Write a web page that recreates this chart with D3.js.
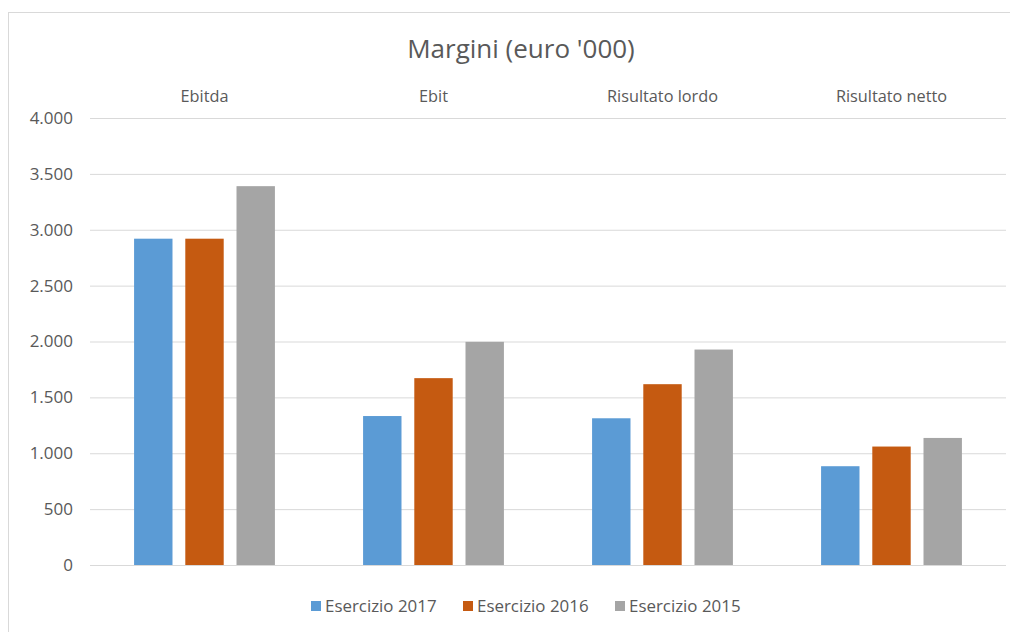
<!DOCTYPE html>
<html><head><meta charset="utf-8">
<script src="https://cdn.jsdelivr.net/npm/d3@7"></script>
<style>body{margin:0;background:#fff}svg{display:block}</style>
</head><body>
<script>
const categories = ["Ebitda", "Ebit", "Risultato lordo", "Risultato netto"];
const seriesNames = ["Esercizio 2017", "Esercizio 2016", "Esercizio 2015"];
const values2017 = [2920, 1333, 1313, 884];
const values2016 = [2920, 1672, 1618, 1060];
const values2015 = [3390, 1997, 1928, 1137];
const tickValues = [0, 500, 1000, 1500, 2000, 2500, 3000, 3500, 4000];
const tickLabels = ["0", "500", "1.000", "1.500", "2.000", "2.500", "3.000", "3.500", "4.000"];
const colors = ["#5B9BD5", "#C55A11", "#A5A5A5"];
const chartTitle = "Margini (euro '000)";

const series = [values2017, values2016, values2015];
const W = 1010, H = 632;
const font = "'Open Sans', sans-serif";
const textColor = "#595959";

const svg = d3.select("body").append("svg").attr("width", W).attr("height", H);
svg.append("rect").attr("x", 8.5).attr("y", 12.5).attr("width", W).attr("height", H)
  .attr("fill", "#fff").attr("stroke", "#d9d9d9").attr("stroke-width", 1);

const pLeft = 90, pRight = 1006, pTop = 118, pBottom = 565;
const y = d3.scaleLinear().domain([0, 4000]).range([pBottom, pTop]);
const x0 = d3.scaleBand().domain(categories).range([pLeft, pRight]).paddingInner(0.385).paddingOuter(0.1925);
const x1 = d3.scaleBand().domain(d3.range(series.length)).range([0, x0.bandwidth()]).paddingInner(0.25);

// gridlines
const yAxis = d3.axisLeft(y).tickValues(tickValues).tickFormat((d, i) => tickLabels[i])
  .tickSize(-(pRight - pLeft)).tickPadding(17);
const gy = svg.append("g").attr("transform", `translate(${pLeft},0)`).call(yAxis);
gy.select(".domain").remove();
gy.selectAll(".tick line").attr("stroke", "#d9d9d9").attr("stroke-width", 1);
gy.selectAll(".tick text").attr("fill", textColor).style("font-family", font).style("font-size", "17px");

// category labels on top
svg.append("g").selectAll("text").data(categories).join("text")
  .attr("x", d => x0(d) + x0.bandwidth() / 2).attr("y", 102)
  .attr("text-anchor", "middle").attr("fill", textColor)
  .style("font-family", font).style("font-size", "16.3px").text(d => d);

// bars
const groups = svg.append("g").selectAll("g").data(categories).join("g")
  .attr("transform", d => `translate(${x0(d)},0)`);
groups.selectAll("rect").data((d, ci) => series.map((s, si) => ({ si, v: s[ci] }))).join("rect")
  .attr("x", d => x1(d.si)).attr("width", x1.bandwidth())
  .attr("y", d => y(d.v)).attr("height", d => y(0) - y(d.v))
  .attr("fill", d => colors[d.si]);

// title
svg.append("text").attr("x", 521).attr("y", 58).attr("text-anchor", "middle")
  .attr("fill", textColor).style("font-family", font).style("font-size", "26px").text(chartTitle);

// legend
const legendX = [311, 463, 615];
const lg = svg.append("g").selectAll("g").data(seriesNames).join("g")
  .attr("transform", (d, i) => `translate(${legendX[i]},601)`);
lg.append("rect").attr("width", 10).attr("height", 10).attr("fill", (d, i) => colors[i]);
lg.append("text").attr("x", 14).attr("y", 11).attr("fill", textColor)
  .style("font-family", font).style("font-size", "16.9px").text(d => d);
</script>
</body></html>
